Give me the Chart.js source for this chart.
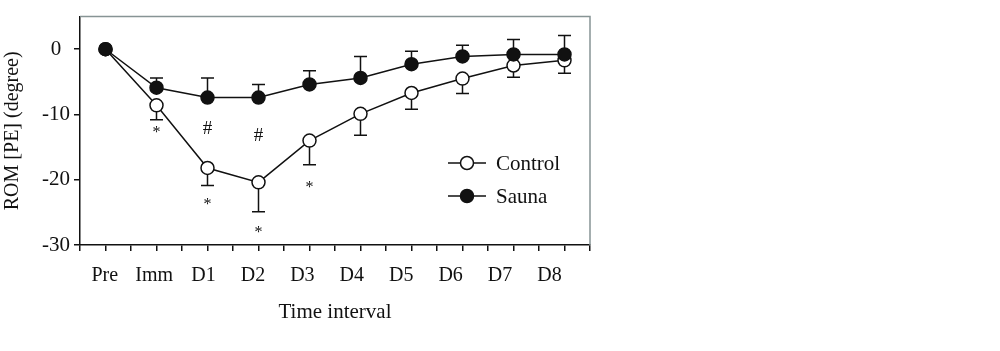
<!DOCTYPE html>
<html>
<head>
<meta charset="utf-8">
<script src="https://cdn.jsdelivr.net/npm/chart.js@4.4.1/dist/chart.umd.min.js"></script>
<style>
  html, body { margin: 0; padding: 0; background: #fff; }
  canvas { display: block; }
</style>
</head>
<body>
<canvas id="romChart" width="1000" height="351"></canvas>
<script>
// values (degrees)
const xLabels = ['Pre', 'Imm', 'D1', 'D2', 'D3', 'D4', 'D5', 'D6', 'D7', 'D8'];
const controlMean = [0, -8.6, -18.2, -20.4, -14.0, -9.9, -6.7, -4.5, -2.5, -1.7];
const controlErr = [0, 2.2, 2.7, 4.5, 3.7, 3.3, 2.5, 2.3, 1.8, 2.0];
const saunaMean = [0, -5.9, -7.4, -7.4, -5.4, -4.4, -2.3, -1.1, -0.8, -0.8];
const saunaErr = [0, 1.5, 3.0, 2.0, 2.1, 3.3, 2.0, 1.7, 2.3, 2.9];
const yTicks = [0, -10, -20, -30];

// significance marks (text and where they sit, in degrees)
const controlMarks = ['', '*', '*', '*', '*', '', '', '', '', ''];
const controlMarkY = [null, -12.3, -23.3, -27.7, -20.7, null, null, null, null, null];
const saunaMarks = ['', '', '#', '#', '', '', '', '', '', ''];
const saunaMarkY = [null, null, -12.0, -13.05, null, null, null, null, null, null];

const FONT = "'Liberation Serif', 'Times New Roman', serif";

const toPoints = (vals) => vals.map((v, i) => ({ x: i + 1, y: v }));

const errorBars = {
  id: 'errorBars',
  beforeDatasetsDraw(chart) {
    const { ctx, scales } = chart;
    ctx.save();
    ctx.strokeStyle = '#111';
    ctx.lineWidth = 1.5;
    chart.data.datasets.forEach((ds, di) => {
      const meta = chart.getDatasetMeta(di);
      ds.errors.forEach((e, i) => {
        if (!e) return;
        const x = meta.data[i].x;
        const y0 = scales.y.getPixelForValue(ds.data[i].y);
        const y1 = scales.y.getPixelForValue(ds.data[i].y + ds.errDir * e);
        ctx.beginPath();
        ctx.moveTo(x, y0);
        ctx.lineTo(x, y1);
        ctx.moveTo(x - 6.5, y1);
        ctx.lineTo(x + 6.5, y1);
        ctx.stroke();
      });
    });
    ctx.restore();
  }
};

const sigMarks = {
  id: 'sigMarks',
  afterDatasetsDraw(chart) {
    const { ctx, scales } = chart;
    ctx.save();
    ctx.fillStyle = '#111';
    ctx.textAlign = 'center';
    ctx.textBaseline = 'alphabetic';
    const drawSet = (marks, ys, size) => {
      ctx.font = `${size}px ${FONT}`;
      marks.forEach((m, i) => {
        if (!m) return;
        const x = scales.x.getPixelForValue(i + 1);
        const cy = scales.y.getPixelForValue(ys[i]);
        const tm = ctx.measureText(m);
        const base = cy + (tm.actualBoundingBoxAscent - tm.actualBoundingBoxDescent) / 2;
        ctx.fillText(m, x, base);
      });
    };
    drawSet(controlMarks, controlMarkY, 16);
    drawSet(saunaMarks, saunaMarkY, 19);
    ctx.restore();
  }
};

const frameAndLegend = {
  id: 'frameAndLegend',
  afterDraw(chart) {
    const { ctx, chartArea } = chart;
    ctx.save();
    // grey top and right frame
    ctx.strokeStyle = '#879495';
    ctx.lineWidth = 1.5;
    ctx.beginPath();
    ctx.moveTo(chartArea.left, chartArea.top);
    ctx.lineTo(chartArea.right, chartArea.top);
    ctx.lineTo(chartArea.right, chartArea.bottom);
    ctx.stroke();

    // legend
    const items = [chart.data.datasets[1], chart.data.datasets[0]];
    const lx = 448, len = 38, rowY = [163, 196];
    ctx.font = `21px ${FONT}`;
    ctx.textBaseline = 'middle';
    ctx.textAlign = 'left';
    items.forEach((ds, k) => {
      const y = rowY[k];
      ctx.strokeStyle = '#111';
      ctx.lineWidth = 1.5;
      ctx.beginPath();
      ctx.moveTo(lx, y);
      ctx.lineTo(lx + len, y);
      ctx.stroke();
      ctx.beginPath();
      ctx.arc(lx + len / 2, y, 6.5, 0, Math.PI * 2);
      ctx.fillStyle = ds.pointBackgroundColor;
      ctx.fill();
      ctx.stroke();
      ctx.fillStyle = '#111';
      ctx.fillText(ds.label, lx + len + 10, y + 1);
    });
    ctx.restore();
  }
};

new Chart(document.getElementById('romChart'), {
  type: 'line',
  data: {
    datasets: [
      {
        label: 'Sauna',
        data: toPoints(saunaMean),
        errors: saunaErr,
        errDir: 1,
        borderColor: '#111',
        borderWidth: 1.5,
        pointRadius: 6.5,
        pointBackgroundColor: '#111',
        pointBorderColor: '#111',
        pointBorderWidth: 1.5,
        tension: 0,
      },
      {
        label: 'Control',
        data: toPoints(controlMean),
        errors: controlErr,
        errDir: -1,
        borderColor: '#111',
        borderWidth: 1.5,
        pointRadius: 6.5,
        pointBackgroundColor: '#fff',
        pointBorderColor: '#111',
        pointBorderWidth: 1.5,
        tension: 0,
      },
    ],
  },
  options: {
    responsive: false,
    animation: false,
    layout: { padding: { top: 14, right: 410, left: 0, bottom: 0 } },
    plugins: {
      legend: { display: false },
      tooltip: { enabled: false },
    },
    scales: {
      x: {
        type: 'linear',
        position: 'bottom',
        weight: 1,
        min: 0.5,
        max: 10.5,
        ticks: { display: false, stepSize: 0.5 },
        grid: { drawOnChartArea: false, drawTicks: true, tickLength: 6, color: '#111', lineWidth: 1.5 },
        border: { color: '#111', width: 1.5 },
        afterFit: (scale) => { scale.height = 6; },
      },
      xl: {
        type: 'linear',
        position: 'bottom',
        weight: 2,
        min: 0.5,
        max: 10.82,
        afterBuildTicks: (scale) => { scale.ticks = xLabels.map((_, i) => ({ value: i + 1 })); },
        ticks: {
          color: '#111',
          font: { family: FONT, size: 20 },
          padding: 13,
          maxRotation: 0,
          autoSkip: false,
          callback: (v) => xLabels[v - 1],
        },
        grid: { display: false, drawTicks: false },
        border: { display: false },
        title: {
          display: true,
          text: 'Time interval',
          color: '#111',
          font: { family: FONT, size: 21 },
          padding: { top: 0, bottom: 26 },
        },
        afterFit: (scale) => { scale.height = 100; },
      },
      y: {
        min: -30,
        max: 5,
        afterBuildTicks: (scale) => { scale.ticks = yTicks.map((v) => ({ value: v })); },
        ticks: {
          color: '#111',
          font: { family: FONT, size: 21 },
          padding: 4,
          crossAlign: 'center',
        },
        grid: { drawOnChartArea: false, drawTicks: true, tickLength: 6, color: '#111', lineWidth: 1.5 },
        border: { color: '#111', width: 1.5 },
        title: {
          display: true,
          text: 'ROM [PE] (degree)',
          color: '#111',
          font: { family: FONT, size: 20 },
          padding: { top: 1, bottom: 0 },
        },
        afterFit: (scale) => { scale.width = 80; },
      },
    },
  },
  plugins: [errorBars, sigMarks, frameAndLegend],
});
</script>
</body>
</html>
